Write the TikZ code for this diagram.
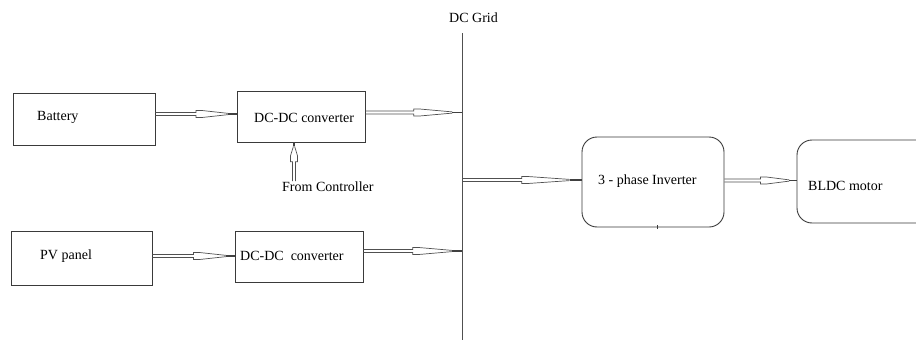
\documentclass[tikz,border=0pt]{standalone}
\usepackage{fontspec}
\setmainfont{Liberation Serif}
\usetikzlibrary{calc}
\definecolor{boxc}{HTML}{3A3A3A}
\definecolor{arrc}{HTML}{505050}
\tikzset{
  box/.style={draw=boxc, line width=0.9pt, minimum width=#1, inner sep=0pt},
  box/.default=128pt,
  rbox/.style={box=#1, rounded corners=15pt},
  txt/.style={inner sep=0pt, anchor=base west, font=\fontsize{14}{17}\selectfont},
  conn/.style={draw=arrc, line width=0.7pt, line join=miter},
  connend/.style={draw=arrc!80!black, line width=1.3pt},
  gridline/.style={draw=arrc, line width=1pt}
}
% hollow block arrow from #1 to #2 (named coordinates)
\newcommand{\blockarrow}[2]{%
  \path ($(#1)!0.5!(#2)$) coordinate (bh)
        ($(#1)!0.5!(#2)$) coordinate (bhx)
        ($(bhx)!6pt!(#2)$) coordinate (bf)
        ($(#1)!0.9!(#2)$) coordinate (bt);
  \draw[conn] ($(#1)!1.5pt!90:(#2)$) -- ($(bh)!1.5pt!90:(#2)$) -- ($(bh)!3.5pt!90:(#2)$)
     -- ($(bf)!3.5pt!90:(#2)$) -- ($(bt)!0.6pt!90:(#2)$);
  \draw[conn] ($(#1)!1.5pt!-90:(#2)$) -- ($(bh)!1.5pt!-90:(#2)$) -- ($(bh)!3.5pt!-90:(#2)$)
     -- ($(bf)!3.5pt!-90:(#2)$) -- ($(bt)!0.6pt!-90:(#2)$);
  \draw[connend] (bt) -- (#2);
}
\begin{document}
\begin{tikzpicture}[x=1pt, y=-1pt]
\useasboundingbox (0,0) rectangle (916,340);
% boxes
\node[box=142pt, minimum height=52pt] (bat) at (84,119) {};
\node[box, minimum height=51pt] (dc1) at (301,116.5) {};
\node[box=141pt, minimum height=54pt] (pv) at (81.5,258) {};
\node[box, minimum height=51pt] (dc2) at (299,256.5) {};
\node[rbox=142pt, minimum height=90pt] (inv) at (653,182) {};
\node[rbox=144pt, minimum height=83pt] (bldc) at (869,181.5) {};
% texts
\node[txt] (tbat) at (37,120) {Battery};
\node[txt] (tdc1) at (254,122.5) {DC-DC converter};
\node[txt] (tctrl) at (282,191) {From Controller};
\node[txt] (tpv) at (40,259.5) {PV panel};
\node[txt] (tdc2) at (240,260) {DC-DC\ \ converter};
\node[txt] (tgrid) at (449,23) {DC Grid};
\node[txt] (tinv) at (598,184.5) {3 - phase Inverter};
\node[txt] (tbldc) at (808,190) {BLDC motor};
% DC grid bus
\coordinate (gtop) at (462,33);
\coordinate (gbot) at (462,341);
\draw[gridline] (gtop) -- (gbot);
% tick on inverter bottom
\draw[boxc, line width=0.7pt] ($(inv.south)+(4,-2)$) -- ($(inv.south)+(4,2)$);
% connectors
\coordinate (a1) at ($(bat.east)+(0,-5)$);
\coordinate (b1) at (a1 -| dc1.west);
\blockarrow{a1}{b1}
\coordinate (a2) at ($(dc1.east)+(0,-4)$);
\coordinate (b2) at (a2 -| gtop);
\blockarrow{a2}{b2}
\coordinate (a3) at ($(pv.east)+(0,-2)$);
\coordinate (b3) at (a3 -| dc2.west);
\blockarrow{a3}{b3}
\coordinate (a4) at ($(dc2.east)+(0,-5.5)$);
\coordinate (b4) at (a4 -| gtop);
\blockarrow{a4}{b4}
\coordinate (b5) at ($(inv.west)+(0,-2)$);
\coordinate (a5) at (b5 -| gtop);
\blockarrow{a5}{b5}
\coordinate (a6) at ($(inv.east)+(0,-1.5)$);
\coordinate (b6) at (a6 -| bldc.west);
\blockarrow{a6}{b6}
\coordinate (b7) at ($(dc1.south)+(-7,0)$);
\coordinate (a7) at (b7 |- tctrl.north);
\blockarrow{a7}{b7}
\end{tikzpicture}
\end{document}
